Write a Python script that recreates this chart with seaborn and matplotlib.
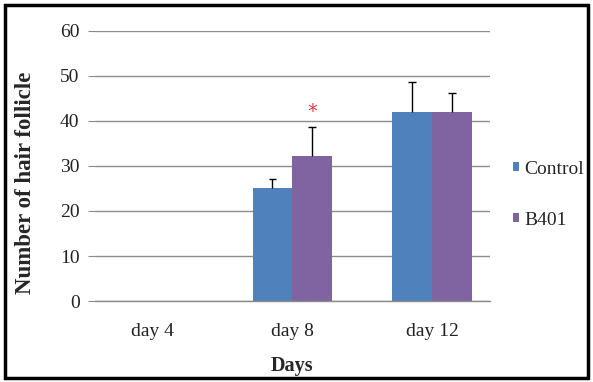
import pandas as pd
import numpy as np
import matplotlib.pyplot as plt
import seaborn as sns
from matplotlib.patches import Rectangle, Patch

# ---------- data ----------
days = ["day 4", "day 8", "day 12"]
groups = ["Control", "B401"]
control_mean = [0, 25.0, 41.9]
b401_mean = [0, 32.3, 42.1]
control_err = [0, 2.1, 6.8]
b401_err = [0, 6.3, 4.1]
star_day = "day 8"
star_value = 42.0
y_ticks = [0, 10, 20, 30, 40, 50, 60]

colors = ["#4F81BD", "#8064A2"]

df = pd.DataFrame({
    "day": days * 2,
    "group": [groups[0]] * len(days) + [groups[1]] * len(days),
    "value": control_mean + b401_mean,
    "err": control_err + b401_err,
})

sns.set_style("white")
plt.rcParams["font.family"] = ["Liberation Serif", "DejaVu Serif"]

fig = plt.figure(figsize=(5.93, 3.82), dpi=100)
ax = fig.add_axes([0.160, 0.212, 0.666, 0.707])

sns.barplot(data=df, x="day", y="value", hue="group", order=days,
            hue_order=groups, palette=colors, width=0.57, gap=0,
            errorbar=None, saturation=1, legend=False, linewidth=0, ax=ax)

# upper-only error bars (vertical line + top cap), patches come in hue order
bars = ax.patches[:len(df)]
cap = 0.027
for bar, (_, row) in zip(bars, df.iterrows()):
    if row["value"] <= 0:
        continue
    xc = bar.get_x() + bar.get_width() / 2
    top = row["value"] + row["err"]
    ax.vlines(xc, row["value"], top, color="black", linewidth=1)
    ax.hlines(top, xc - cap, xc + cap, color="black", linewidth=1)

# significance star above B401 on day 8
star_bar = bars[len(days) + days.index(star_day)]
ax.text(star_bar.get_x() + star_bar.get_width() / 2, star_value, "*",
        color="#E8393F", ha="center", va="center", fontsize=14,
        family="DejaVu Sans")

ax.set_ylim(0, 60)
ax.set_yticks(y_ticks)
ax.yaxis.grid(True, color="#8C8C8C", linewidth=1)
ax.set_axisbelow(True)
for s in ["top", "right", "left"]:
    ax.spines[s].set_visible(False)
ax.spines["bottom"].set_color("#8C8C8C")
ax.spines["bottom"].set_linewidth(1)
ax.tick_params(axis="y", which="major", left=True, length=5, color="#8C8C8C",
               labelsize=14, pad=6, labelcolor="#222222")
ax.tick_params(axis="x", bottom=False, labelsize=14, pad=12,
               labelcolor="#222222")

ax.set_xlabel("Days", fontsize=14.5, fontweight="bold")
ax.xaxis.set_label_coords(0.5, -0.204)
ax.set_ylabel("Number of hair follicle", fontsize=16.5, fontweight="bold")
ax.yaxis.set_label_coords(-0.149, 0.437)

handles = [Patch(facecolor=c, edgecolor="none") for c in colors]
fig.legend(handles, groups, loc="center left", bbox_to_anchor=(0.865, 0.49),
           frameon=False, fontsize=14, handlelength=0.32, handleheight=0.32,
           handletextpad=0.25, labelspacing=1.75, borderpad=0,
           borderaxespad=0)

# black frame around the whole picture
fig.patches.append(Rectangle((0.008, 0.01), 0.984, 0.978, transform=fig.transFigure,
                             fill=False, edgecolor="black", linewidth=2.5))

plt.savefig("out.png", dpi=100)
